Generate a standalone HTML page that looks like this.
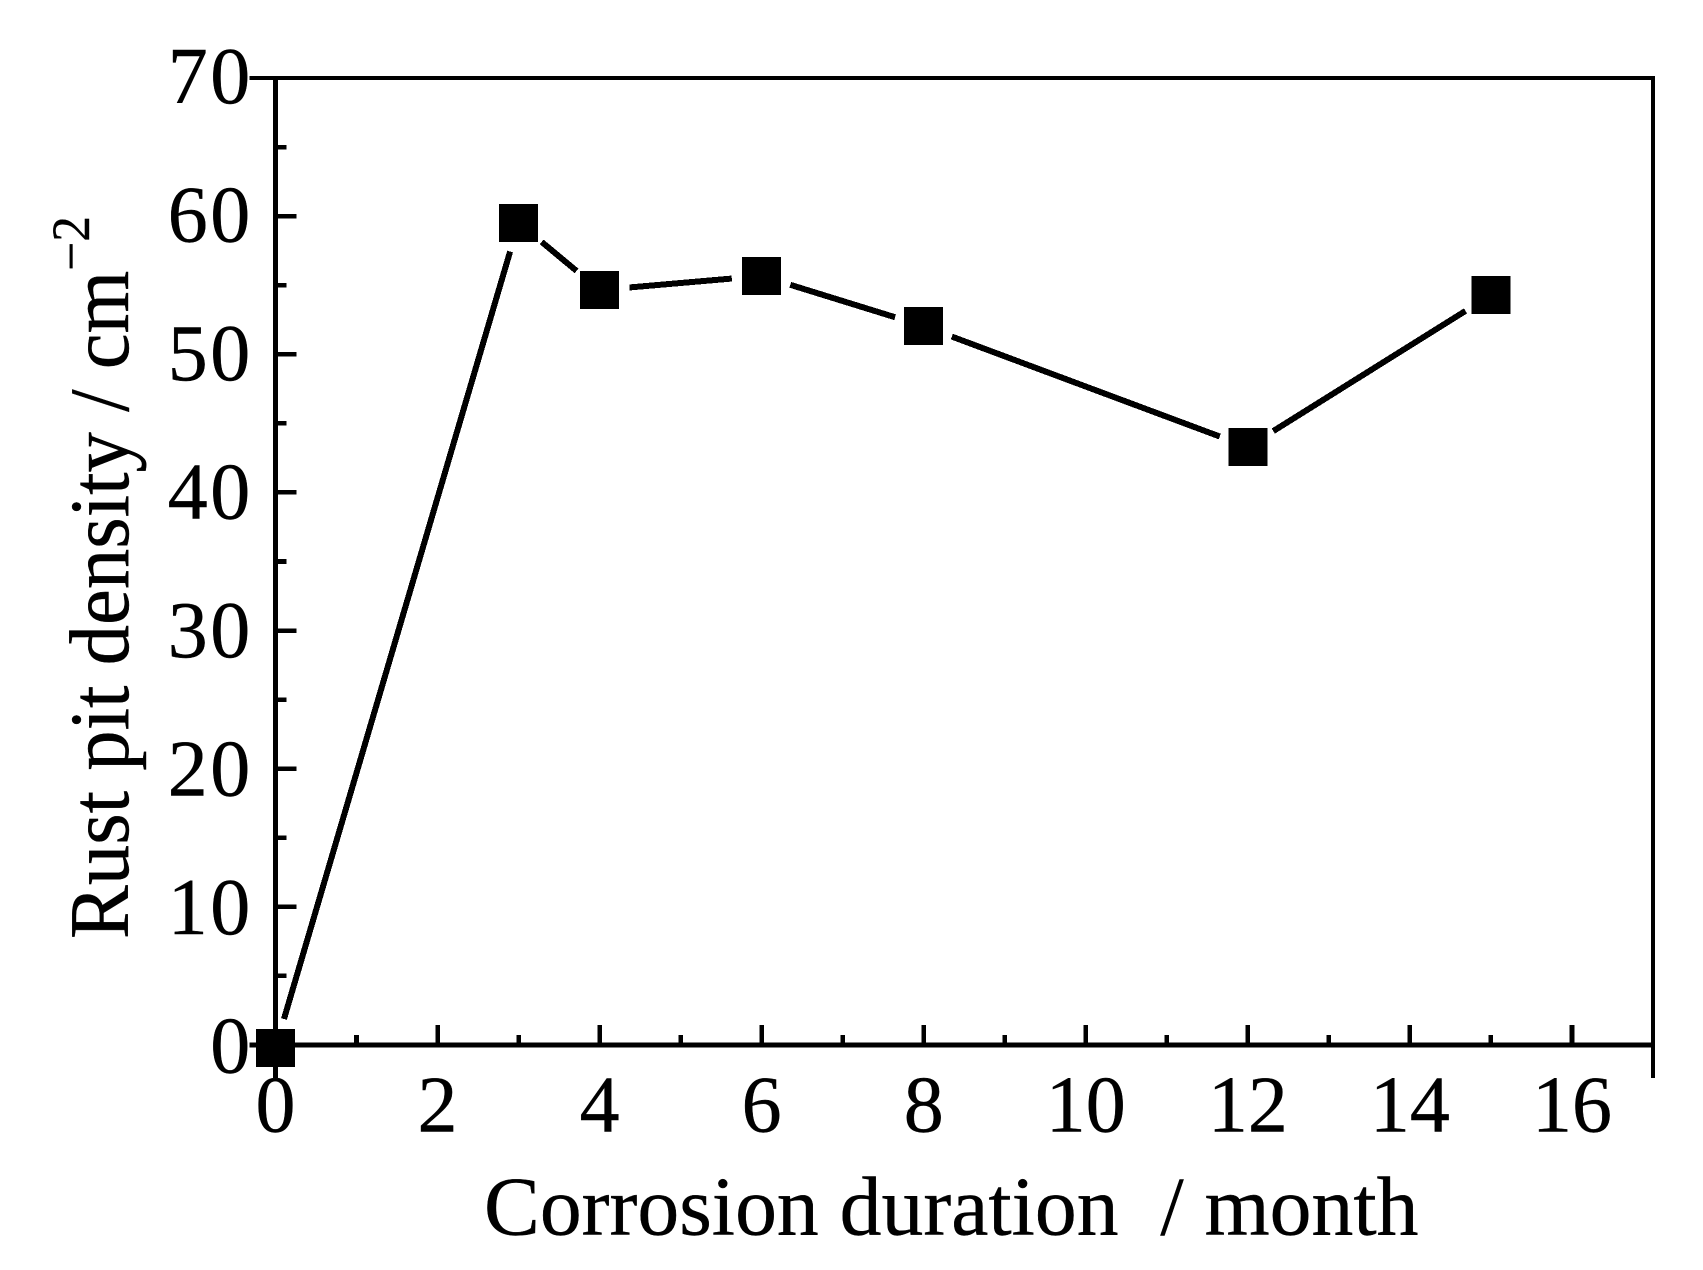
<!DOCTYPE html>
<html lang="en">
<head>
<meta charset="utf-8">
<title>Rust pit density vs corrosion duration</title>
<style>
html,body{margin:0;padding:0;background:#fff;}
svg{display:block;}
text{font-family:"Liberation Serif",serif;fill:#000;stroke:#000;stroke-width:0.4px;white-space:pre;}
</style>
</head>
<body>
<svg id="chart" xmlns="http://www.w3.org/2000/svg" width="1703" height="1270" viewBox="0 0 1703 1270">
  <rect x="0" y="0" width="1703" height="1270" fill="#fff"/>
  <g id="axes" shape-rendering="crispEdges"></g>
  <g id="series" shape-rendering="crispEdges"></g>
  <g id="labels"></g>
  <text x="484" y="1234.5" font-size="83.7">Corrosion duration  / month</text>
  <text transform="translate(128 939) rotate(-90) scale(0.95 1)" font-size="85">Rust pit density / cm<tspan dy="-39" font-size="54">−2</tspan></text>
</svg>
<script>
const months = [0, 3, 4, 6, 8, 12, 15];
const densities = [-0.2, 59.52, 54.65, 55.67, 52.04, 43.29, 54.29];
const xTickLabels = [0, 2, 4, 6, 8, 10, 12, 14, 16];
const xMinorTicks = [1, 3, 5, 7, 9, 11, 13, 15];
const yTickLabels = [0, 10, 20, 30, 40, 50, 60, 70];
const yMinorTicks = [5, 15, 25, 35, 45, 55, 65];
const xDomain = [0, 17];
const yDomain = [0, 70];

const plot = { left: 275.5, right: 1653, top: 78, bottom: 1045 };
const NS = 'http://www.w3.org/2000/svg';
const axes = document.getElementById('axes');
const series = document.getElementById('series');
const labels = document.getElementById('labels');

function xScale(v) {
  return plot.left + (v - xDomain[0]) / (xDomain[1] - xDomain[0]) * (plot.right - plot.left);
}
function yScale(v) {
  return plot.bottom - (v - yDomain[0]) / (yDomain[1] - yDomain[0]) * (plot.bottom - plot.top);
}
/* Tick-label baselines drift slightly against the ticks in the original figure. */
function yLabelBaseline(v) {
  const t = (v - yDomain[0]) / (yDomain[1] - yDomain[0]);
  return yScale(v) + 27.6 - 2.6 * t;
}
function makeLine(parent, x1, y1, x2, y2, w) {
  const l = document.createElementNS(NS, 'line');
  l.setAttribute('x1', x1);
  l.setAttribute('y1', y1);
  l.setAttribute('x2', x2);
  l.setAttribute('y2', y2);
  l.setAttribute('stroke', '#000');
  l.setAttribute('stroke-width', w);
  parent.appendChild(l);
  return l;
}

let el;

el = makeLine(axes, plot.left, plot.top - 2, plot.left, plot.bottom + 33, 5);


el = makeLine(axes, plot.right, plot.top - 2, plot.right, plot.bottom + 33, 4.2);


el = makeLine(axes, plot.left - 26, plot.top, plot.right + 2, plot.top, 4.4);


el = makeLine(axes, plot.left - 26, plot.bottom, plot.right + 2, plot.bottom, 5);



xTickLabels.forEach(function (v) {
  if (v !== xDomain[0]) {
    const t = makeLine(axes, xScale(v), plot.bottom, xScale(v), plot.bottom - 20, 4.6);
    
    
  }
  const label = document.createElementNS(NS, 'text');
  label.setAttribute('x', xScale(v));
  label.setAttribute('y', 1131.7);
  label.setAttribute('font-size', 80);
  label.setAttribute('text-anchor', 'middle');
  label.textContent = v;
  
  
  labels.appendChild(label);
});
xMinorTicks.forEach(function (v) {
  const t = makeLine(axes, xScale(v), plot.bottom, xScale(v), plot.bottom - 10, 4.6);
  
  
});
yTickLabels.forEach(function (v) {
  if (v !== yDomain[0] && v !== yDomain[1]) {
    const t = makeLine(axes, plot.left, yScale(v), plot.left + 21, yScale(v), 4.6);
    
    
  }
  const label = document.createElementNS(NS, 'text');
  label.setAttribute('x', 252.7);
  label.setAttribute('y', yLabelBaseline(v));
  label.setAttribute('font-size', 80);
  label.setAttribute('letter-spacing', 2.5);
  label.setAttribute('text-anchor', 'end');
  label.textContent = v;
  
  
  labels.appendChild(label);
});
yMinorTicks.forEach(function (v) {
  const t = makeLine(axes, plot.left, yScale(v), plot.left + 11, yScale(v), 4.6);
  
  
});

/* Line segments stop short of each marker, leaving the symbol gap of the original plot. */
const SYMBOL_GAP = 30;
for (let i = 0; i < months.length - 1; i++) {
  const x1 = xScale(months[i]);
  const y1 = yScale(densities[i]);
  const x2 = xScale(months[i + 1]);
  const y2 = yScale(densities[i + 1]);
  const len = Math.hypot(x2 - x1, y2 - y1);
  const ux = (x2 - x1) / len;
  const uy = (y2 - y1) / len;
  const seg = makeLine(series, x1 + ux * SYMBOL_GAP, y1 + uy * SYMBOL_GAP, x2 - ux * SYMBOL_GAP, y2 - uy * SYMBOL_GAP, 6);
  
  
}
months.forEach(function (m, i) {
  const w = 39;
  const h = 38;
  const r = document.createElementNS(NS, 'rect');
  r.setAttribute('x', xScale(m) - w / 2);
  r.setAttribute('y', yScale(densities[i]) - h / 2);
  r.setAttribute('width', w);
  r.setAttribute('height', h);
  r.setAttribute('fill', '#000');
  
  
  series.appendChild(r);
});
</script>
</body>
</html>
